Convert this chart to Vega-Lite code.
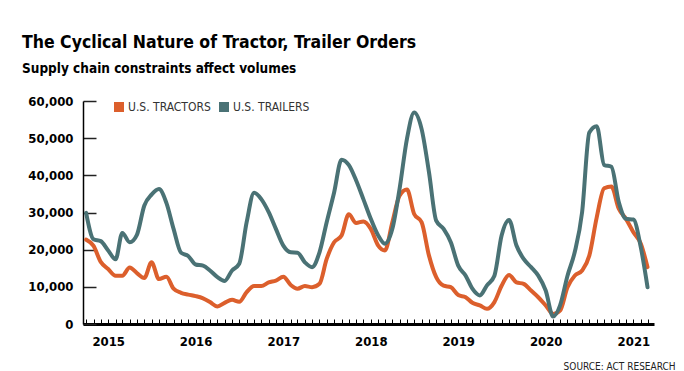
{
  "$schema": "https://vega.github.io/schema/vega-lite/v6.json",
  "width": 571,
  "height": 223,
  "autosize": "none",
  "padding": {"left": 83, "top": 101, "right": 30, "bottom": 47},
  "background": "white",
  "config": {"view": {"stroke": null}, "font": "DejaVu Sans Condensed, Roboto, sans-serif"},
  "title": {
    "text": "The Cyclical Nature of Tractor, Trailer Orders",
    "subtitle": "Supply chain constraints affect volumes",
    "anchor": "start",
    "frame": "group",
    "dx": -61,
    "offset": 20,
    "font": "DejaVu Sans Condensed, Roboto, sans-serif",
    "subtitleFont": "DejaVu Sans Condensed, Roboto, sans-serif",
    "fontSize": 17.5,
    "fontWeight": "bold",
    "subtitleFontSize": 13.5,
    "subtitleFontWeight": "bold",
    "color": "black",
    "subtitleColor": "black",
    "subtitlePadding": 10
  },
  "data": {"values": [
    {"date": "2014-10-01", "TRACTORS": 22700, "TRAILERS": 29900},
    {"date": "2014-11-01", "TRACTORS": 21000, "TRAILERS": 22800},
    {"date": "2014-12-01", "TRACTORS": 16700, "TRAILERS": 22300},
    {"date": "2015-01-01", "TRACTORS": 14800, "TRAILERS": 19800},
    {"date": "2015-02-01", "TRACTORS": 13000, "TRAILERS": 17400},
    {"date": "2015-03-01", "TRACTORS": 13000, "TRAILERS": 24500},
    {"date": "2015-04-01", "TRACTORS": 15200, "TRAILERS": 22000},
    {"date": "2015-05-01", "TRACTORS": 13700, "TRAILERS": 24000},
    {"date": "2015-06-01", "TRACTORS": 12400, "TRAILERS": 31900},
    {"date": "2015-07-01", "TRACTORS": 16600, "TRAILERS": 34800},
    {"date": "2015-08-01", "TRACTORS": 12100, "TRAILERS": 36300},
    {"date": "2015-09-01", "TRACTORS": 12700, "TRAILERS": 32600},
    {"date": "2015-10-01", "TRACTORS": 9500, "TRAILERS": 25600},
    {"date": "2015-11-01", "TRACTORS": 8400, "TRAILERS": 19200},
    {"date": "2015-12-01", "TRACTORS": 7900, "TRAILERS": 18300},
    {"date": "2016-01-01", "TRACTORS": 7500, "TRAILERS": 16000},
    {"date": "2016-02-01", "TRACTORS": 6900, "TRAILERS": 15700},
    {"date": "2016-03-01", "TRACTORS": 5900, "TRAILERS": 14400},
    {"date": "2016-04-01", "TRACTORS": 4700, "TRAILERS": 12600},
    {"date": "2016-05-01", "TRACTORS": 5700, "TRAILERS": 11600},
    {"date": "2016-06-01", "TRACTORS": 6500, "TRAILERS": 14400},
    {"date": "2016-07-01", "TRACTORS": 6000, "TRAILERS": 16200},
    {"date": "2016-08-01", "TRACTORS": 8600, "TRAILERS": 27400},
    {"date": "2016-09-01", "TRACTORS": 10200, "TRAILERS": 35300},
    {"date": "2016-10-01", "TRACTORS": 10200, "TRAILERS": 33600},
    {"date": "2016-11-01", "TRACTORS": 11200, "TRAILERS": 30100},
    {"date": "2016-12-01", "TRACTORS": 11700, "TRAILERS": 25600},
    {"date": "2017-01-01", "TRACTORS": 12700, "TRAILERS": 21100},
    {"date": "2017-02-01", "TRACTORS": 10500, "TRAILERS": 19300},
    {"date": "2017-03-01", "TRACTORS": 9500, "TRAILERS": 19200},
    {"date": "2017-04-01", "TRACTORS": 10200, "TRAILERS": 16600},
    {"date": "2017-05-01", "TRACTORS": 9900, "TRAILERS": 15300},
    {"date": "2017-06-01", "TRACTORS": 10800, "TRAILERS": 19300},
    {"date": "2017-07-01", "TRACTORS": 17500, "TRAILERS": 27400},
    {"date": "2017-08-01", "TRACTORS": 22000, "TRAILERS": 35400},
    {"date": "2017-09-01", "TRACTORS": 23800, "TRAILERS": 44200},
    {"date": "2017-10-01", "TRACTORS": 29500, "TRAILERS": 42800},
    {"date": "2017-11-01", "TRACTORS": 27200, "TRAILERS": 38600},
    {"date": "2017-12-01", "TRACTORS": 27600, "TRAILERS": 33600},
    {"date": "2018-01-01", "TRACTORS": 25600, "TRAILERS": 28300},
    {"date": "2018-02-01", "TRACTORS": 21100, "TRAILERS": 23800},
    {"date": "2018-03-01", "TRACTORS": 19800, "TRAILERS": 21600},
    {"date": "2018-04-01", "TRACTORS": 27400, "TRAILERS": 25600},
    {"date": "2018-05-01", "TRACTORS": 34500, "TRAILERS": 36300},
    {"date": "2018-06-01", "TRACTORS": 36200, "TRAILERS": 49800},
    {"date": "2018-07-01", "TRACTORS": 29600, "TRAILERS": 56900},
    {"date": "2018-08-01", "TRACTORS": 27400, "TRAILERS": 52500},
    {"date": "2018-09-01", "TRACTORS": 18400, "TRAILERS": 40800},
    {"date": "2018-10-01", "TRACTORS": 12600, "TRAILERS": 27800},
    {"date": "2018-11-01", "TRACTORS": 10300, "TRAILERS": 25600},
    {"date": "2018-12-01", "TRACTORS": 9900, "TRAILERS": 22000},
    {"date": "2019-01-01", "TRACTORS": 7800, "TRAILERS": 15700},
    {"date": "2019-02-01", "TRACTORS": 7200, "TRAILERS": 13000},
    {"date": "2019-03-01", "TRACTORS": 5700, "TRAILERS": 9500},
    {"date": "2019-04-01", "TRACTORS": 5000, "TRAILERS": 7700},
    {"date": "2019-05-01", "TRACTORS": 4100, "TRAILERS": 10400},
    {"date": "2019-06-01", "TRACTORS": 5900, "TRAILERS": 13000},
    {"date": "2019-07-01", "TRACTORS": 10300, "TRAILERS": 23800},
    {"date": "2019-08-01", "TRACTORS": 13200, "TRAILERS": 28000},
    {"date": "2019-09-01", "TRACTORS": 11200, "TRAILERS": 21100},
    {"date": "2019-10-01", "TRACTORS": 10800, "TRAILERS": 17500},
    {"date": "2019-11-01", "TRACTORS": 9000, "TRAILERS": 15300},
    {"date": "2019-12-01", "TRACTORS": 7200, "TRAILERS": 13000},
    {"date": "2020-01-01", "TRACTORS": 5000, "TRAILERS": 9000},
    {"date": "2020-02-01", "TRACTORS": 2700, "TRAILERS": 2000},
    {"date": "2020-03-01", "TRACTORS": 3600, "TRAILERS": 5000},
    {"date": "2020-04-01", "TRACTORS": 9900, "TRAILERS": 13000},
    {"date": "2020-05-01", "TRACTORS": 13000, "TRAILERS": 19300},
    {"date": "2020-06-01", "TRACTORS": 14400, "TRAILERS": 30100},
    {"date": "2020-07-01", "TRACTORS": 18400, "TRAILERS": 51500},
    {"date": "2020-08-01", "TRACTORS": 28700, "TRAILERS": 53200},
    {"date": "2020-09-01", "TRACTORS": 36500, "TRAILERS": 42800},
    {"date": "2020-10-01", "TRACTORS": 37000, "TRAILERS": 42300},
    {"date": "2020-11-01", "TRACTORS": 31000, "TRAILERS": 32800},
    {"date": "2020-12-01", "TRACTORS": 28300, "TRAILERS": 28300},
    {"date": "2021-01-01", "TRACTORS": 24700, "TRAILERS": 28100},
    {"date": "2021-02-01", "TRACTORS": 21600, "TRAILERS": 20600},
    {"date": "2021-03-01", "TRACTORS": 15300, "TRAILERS": 9900}
  ]},
  "transform": [{"fold": ["TRACTORS", "TRAILERS"], "as": ["series", "value"]}],
  "mark": {"type": "line", "interpolate": "monotone", "strokeWidth": 4, "strokeCap": "round", "strokeJoin": "round"},
  "encoding": {
    "x": {
      "field": "date",
      "type": "temporal",
      "scale": {"type": "utc", "domain": [{"year": 2014, "month": 9, "date": 18, "utc": true}, {"year": 2021, "month": 3, "date": 28, "utc": true}]},
      "axis": {
        "title": "SOURCE: ACT RESEARCH",
        "titleFontSize": 10,
        "titleFontWeight": "normal",
        "titleColor": "#222",
        "titleX": 592,
        "titleY": 45,
        "titleAlign": "right",
        "titleBaseline": "alphabetic",
        "tickCount": {"interval": "month", "step": 1},
        "labelExpr": "utcFormat(datum.value, '%m') == '01' ? utcFormat(datum.value, '%Y') : ''",
        "labelFontSize": 13,
        "labelFontWeight": "bold",
        "labelColor": "black",
        "labelOverlap": false,
        "labelFlush": false,
        "labelBaseline": "top",
        "labelPadding": 16,
        "tickSize": -5,
        "tickColor": "black",
        "tickWidth": 1,
        "domainColor": "black",
        "domainWidth": 3,
        "grid": false
      }
    },
    "y": {
      "field": "value",
      "type": "quantitative",
      "scale": {"domain": [0, 60000], "nice": false},
      "axis": {
        "title": null,
        "values": [0, 10000, 20000, 30000, 40000, 50000, 60000],
        "format": ",.0f",
        "labelFontSize": 13,
        "labelFontWeight": "bold",
        "labelColor": "black",
        "labelPadding": 23,
        "tickSize": -13,
        "tickColor": "#222",
        "tickWidth": 1.5,
        "domainColor": "black",
        "domainWidth": 1.5,
        "grid": false
      }
    },
    "color": {
      "field": "series",
      "type": "nominal",
      "scale": {"domain": ["TRACTORS", "TRAILERS"], "range": ["#DC5F2C", "#4A7275"]},
      "legend": {
        "title": null,
        "orient": "none",
        "legendX": 30,
        "legendY": 0,
        "direction": "horizontal",
        "symbolType": "square",
        "symbolSize": 100,
        "symbolStrokeWidth": 0,
        "labelFontSize": 12,
        "labelColor": "#333",
        "labelOffset": 3,
        "columnPadding": 7,
        "labelExpr": "'U.S. ' + datum.label",
        "encode": {"symbols": {"update": {"fill": {"scale": "color", "field": "value"}, "fillOpacity": {"value": 1}, "stroke": {"value": "transparent"}}}}
      }
    }
  }
}
